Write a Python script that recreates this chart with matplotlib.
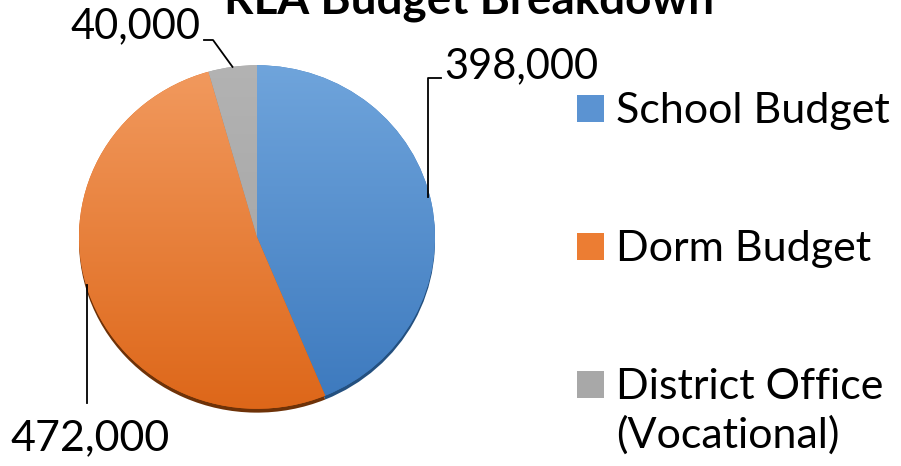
"""
RLA Budget Breakdown - pie chart with gradient slices
"""

import numpy as np
import matplotlib
matplotlib.use('Agg')
import matplotlib.pyplot as plt
from matplotlib.colors import LinearSegmentedColormap
from matplotlib.patches import Rectangle
from matplotlib.transforms import Affine2D

plt.rcParams['font.family'] = ['Lato', 'DejaVu Sans']

# data
categories = ['School Budget', 'Dorm Budget', 'District Office\n(Vocational)']
values = [398000, 472000, 40000]
value_labels = ['398,000', '472,000', '40,000']

# colours: (top, bottom) of each slice gradient
top_colors = ['#70a5dc', '#f29b60', '#b3b3b3']
bottom_colors = ['#3b78bd', '#dd6618', '#a0a0a0']
shadow_colors = ['#24507f', '#6e3208', '#5e5e5e']
legend_colors = ['#5b93d2', '#ec7d33', '#a8a8a8']

W, H = 901, 466


def Y(y_img):
    """image row -> data y"""
    return H - y_img


def create_chart():
    fig = plt.figure(figsize=(W / 100, H / 100), dpi=100)
    ax = fig.add_axes([0, 0, 1, 1])
    ax.set_xlim(0, W)
    ax.set_ylim(0, H)

    cx, cy, r = 257, Y(237), 178
    squash = 0.965  # pie is drawn a little flatter than a circle
    tilt = Affine2D().translate(0, -cy).scale(1, squash).translate(0, cy)

    # shadow under the pie
    shadow, _ = ax.pie(values, colors=shadow_colors, startangle=90,
                       counterclock=False, center=(cx, cy - 4), radius=r,
                       frame=True, wedgeprops=dict(linewidth=0))

    wedges, _ = ax.pie(values, colors=bottom_colors, startangle=90,
                       counterclock=False, center=(cx, cy), radius=r,
                       frame=True, wedgeprops=dict(linewidth=0))

    for w in list(shadow) + list(wedges):
        w.set_transform(tilt + ax.transData)

    # vertical gradient inside each slice
    grad = np.linspace(0, 1, 256).reshape(-1, 1)
    for w, c_top, c_bot in zip(wedges, top_colors, bottom_colors):
        cmap = LinearSegmentedColormap.from_list('g', [c_bot, c_top])
        im = ax.imshow(grad, cmap=cmap, origin='lower', aspect='auto',
                       extent=(cx - r, cx + r, cy - r, cy + r), zorder=2)
        im.set_clip_path(w)

    ax.set_xlim(0, W)
    ax.set_ylim(0, H)
    ax.set_aspect('auto')
    ax.axis('off')

    # leader lines to the middle of each slice edge
    total = sum(values)
    start = 90.0
    mids = []
    for v in values:
        span = 360.0 * v / total
        mids.append(start - span / 2)
        start -= span
    edge = [(cx + r * np.cos(np.radians(a)),
             cy + squash * r * np.sin(np.radians(a))) for a in mids]

    # School Budget label
    ex, ey = edge[0]
    ax.plot([441, 428, 428], [Y(78), Y(78), ey + 6], color='black', lw=1.3,
            zorder=3)
    ax.text(444, Y(78), value_labels[0], ha='left', va='baseline',
            fontsize=30)

    # Dorm Budget label
    ex, ey = edge[1]
    ax.plot([87, 87], [Y(403), ey + 8], color='black', lw=1.3, zorder=3)
    ax.text(10, Y(450), value_labels[1], ha='left', va='baseline',
            fontsize=31)

    # District Office label
    ex, ey = edge[2]
    ax.plot([204, 213, ex], [Y(40), Y(40), ey], color='black', lw=1.3,
            zorder=3)
    ax.text(200, Y(38), value_labels[2], ha='right', va='baseline',
            fontsize=30)

    # title (partly cut off at the top, as in the original)
    ax.text(469, Y(14), 'RLA Budget Breakdown', ha='center', va='baseline',
            fontsize=33, weight='bold')

    # legend
    rows = [108, 246, 384]
    for yy, lab, col in zip(rows, categories, legend_colors):
        ax.add_patch(Rectangle((577, Y(yy) - 13.5), 27, 27, facecolor=col,
                               edgecolor='none'))
        first, *rest = lab.split('\n')
        ax.text(616, Y(yy + 15), first, ha='left', va='baseline', fontsize=31)
        if rest:
            ax.text(616, Y(yy + 15 + 49), rest[0], ha='left', va='baseline',
                    fontsize=31)

    fig.savefig('out.png', dpi=100, facecolor='white')
    plt.close(fig)


if __name__ == '__main__':
    create_chart()
